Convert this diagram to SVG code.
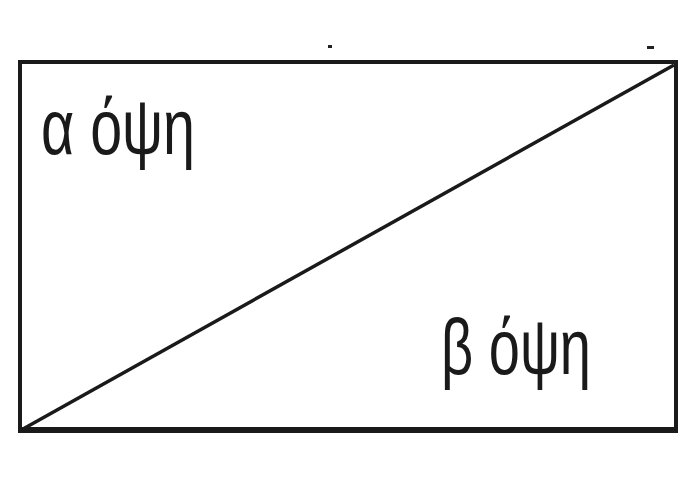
<svg xmlns="http://www.w3.org/2000/svg" width="700" height="500" viewBox="0 0 700 500">
<style>
.lbl{font-family:"Liberation Sans","DejaVu Sans",sans-serif;font-size:78px;fill:#1a1a1a}
.edge{stroke:#1a1a1a;fill:none}
</style>
<rect width="700" height="500" fill="#fff"/>
<g id="frame">
<rect class="edge" x="20" y="62" width="656" height="368" stroke-width="4"/>
<line class="edge" x1="18" y1="430" x2="678" y2="430" stroke-width="6"/>
<rect x="328" y="45" width="4" height="3" fill="#222"/>
<rect x="647" y="46" width="7" height="3" fill="#222"/>
</g>
<g id="connectors">
<line class="edge" x1="23" y1="429" x2="674" y2="65" stroke-width="3.5"/>
</g>
<g id="node-a">
<text class="lbl" x="41" y="154" textLength="154" lengthAdjust="spacingAndGlyphs">α όψη</text>
</g>
<g id="node-b">
<text class="lbl" x="441" y="374" textLength="150" lengthAdjust="spacingAndGlyphs">β όψη</text>
</g>
</svg>
